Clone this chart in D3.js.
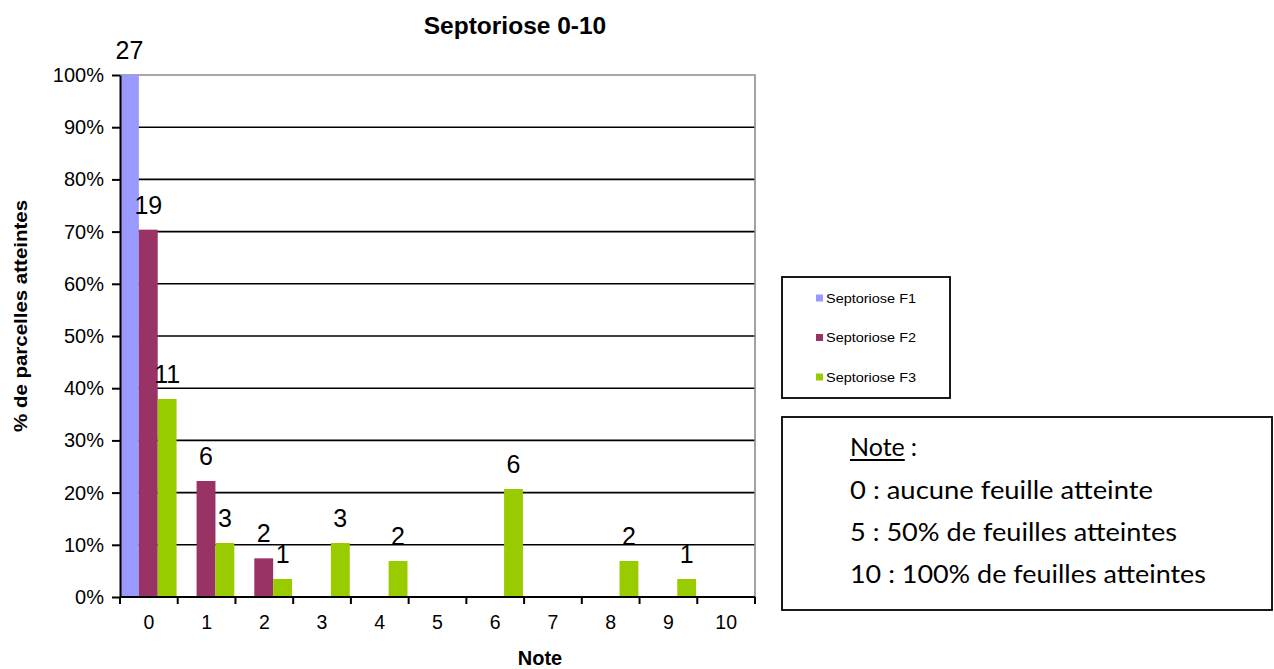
<!DOCTYPE html>
<html>
<head>
<meta charset="utf-8">
<script src="https://cdn.jsdelivr.net/npm/d3@7"></script>
<style>
  html, body { margin: 0; padding: 0; background: #fff; }
  svg { display: block; }
  text { font-family: "Liberation Sans", Arial, sans-serif; fill: #000; }
  .note text { font-family: Lato, "Open Sans", sans-serif; }
</style>
</head>
<body>
<svg id="chart" width="1274" height="669"></svg>
<script>
// Notes (0-10) on the x axis
const notes = ["0", "1", "2", "3", "4", "5", "6", "7", "8", "9", "10"];
// Number of plots per note, for each leaf level
const f1Counts = [27, 0, 0, 0, 0, 0, 0, 0, 0, 0, 0];
const f2Counts = [19, 6, 2, 0, 0, 0, 0, 0, 0, 0, 0];
const f3Counts = [11, 3, 1, 3, 2, 0, 6, 0, 2, 1, 0];
const seriesNames = ["Septoriose F1", "Septoriose F2", "Septoriose F3"];
const seriesColors = ["#9999FF", "#993366", "#99CC00"];
const yTicks = [0, 0.1, 0.2, 0.3, 0.4, 0.5, 0.6, 0.7, 0.8, 0.9, 1.0];
const noteLines = [
  "0 : aucune feuille atteinte",
  "5 : 50% de feuilles atteintes",
  "10 : 100% de feuilles atteintes"
];

const allCounts = [f1Counts, f2Counts, f3Counts];
// share of plots per note within each series
const series = allCounts.map((counts, s) => {
  const total = d3.sum(counts);
  return counts.map((c, i) => ({ s, note: notes[i], count: c, pct: c / total }));
});

const svg = d3.select("#chart");
const plot = { left: 120, right: 755, top: 75, bottom: 597 };

const x0 = d3.scaleBand().domain(notes).range([plot.left, plot.right])
  .paddingInner(0.02).paddingOuter(0.01).align(0);
const x1 = d3.scaleBand().domain([0, 1, 2]).range([0, x0.bandwidth()]);
const y = d3.scaleLinear().domain([0, 1]).range([plot.bottom, plot.top]);
const slot = (plot.right - plot.left) / notes.length;

// horizontal gridlines
svg.append("g")
  .selectAll("line")
  .data(yTicks.filter(t => t > 0 && t < 1))
  .join("line")
  .attr("x1", plot.left).attr("x2", plot.right)
  .attr("y1", d => y(d)).attr("y2", d => y(d))
  .attr("stroke", "#000").attr("stroke-width", 1.6);

// plot area frame (top and right)
svg.append("path")
  .attr("d", `M${plot.left},${y(1)}H${plot.right}V${plot.bottom}`)
  .attr("fill", "none").attr("stroke", "#8c8c8c").attr("stroke-width", 1.6);

// bars
const bars = svg.append("g");
series.forEach(data => {
  bars.selectAll(null)
    .data(data.filter(d => d.count > 0))
    .join("rect")
    .attr("x", d => x0(d.note) + x1(d.s))
    .attr("width", x1.bandwidth())
    .attr("y", d => y(d.pct))
    .attr("height", d => y(0) - y(d.pct))
    .attr("fill", seriesColors[data[0].s]);
});

// value labels (counts)
const labels = svg.append("g");
series.forEach(data => {
  labels.selectAll(null)
    .data(data.filter(d => d.count > 0))
    .join("text")
    .attr("x", d => x0(d.note) + x1(d.s) + x1.bandwidth() / 2)
    .attr("y", d => y(d.pct) - 16)
    .attr("text-anchor", "middle")
    .style("font-size", "25px")
    .text(d => d.count);
});

// y axis
const yAxis = svg.append("g")
  .attr("transform", `translate(${plot.left},0)`)
  .call(d3.axisLeft(y).tickValues(yTicks).tickFormat(d3.format(".0%"))
    .tickSize(8).tickSizeOuter(0).tickPadding(8));
yAxis.select(".domain").attr("stroke", "#000").attr("stroke-width", 2);
yAxis.selectAll(".tick line").attr("stroke", "#000").attr("stroke-width", 2);
yAxis.selectAll(".tick text").style("font-size", "20px").attr("font-family", null);

// x axis: ticks at category boundaries
const xAxis = svg.append("g")
  .attr("transform", `translate(0,${plot.bottom})`);
xAxis.append("line")
  .attr("x1", plot.left).attr("x2", plot.right)
  .attr("stroke", "#000").attr("stroke-width", 2);
xAxis.selectAll(".bt")
  .data(d3.range(notes.length + 1))
  .join("line")
  .attr("class", "bt")
  .attr("x1", i => plot.left + i * slot)
  .attr("x2", i => plot.left + i * slot)
  .attr("y1", 0).attr("y2", 7)
  .attr("stroke", "#000").attr("stroke-width", 2);
xAxis.selectAll(".xl")
  .data(notes)
  .join("text")
  .attr("class", "xl")
  .attr("x", (d, i) => plot.left + (i + 0.5) * slot)
  .attr("y", 32)
  .attr("text-anchor", "middle")
  .style("font-size", "19.5px")
  .text(d => d);

// titles
svg.append("text")
  .attr("x", 515).attr("y", 34)
  .attr("text-anchor", "middle")
  .style("font-size", "24.5px").style("font-weight", "bold")
  .text("Septoriose 0-10");

svg.append("text")
  .attr("x", 540).attr("y", 665)
  .attr("text-anchor", "middle")
  .style("font-size", "20px").style("font-weight", "bold")
  .text("Note");

svg.append("text")
  .attr("transform", "translate(27,316) rotate(-90)")
  .attr("text-anchor", "middle")
  .attr("textLength", 232).attr("lengthAdjust", "spacingAndGlyphs")
  .style("font-size", "18px").style("font-weight", "bold")
  .text("% de parcelles atteintes");

// legend
const legend = svg.append("g");
legend.append("rect")
  .attr("x", 782).attr("y", 277).attr("width", 168).attr("height", 121)
  .attr("fill", "#fff").attr("stroke", "#000").attr("stroke-width", 1.8);
const legendY = d3.scalePoint().domain(seriesNames).range([298, 377]);
legend.selectAll(".sw")
  .data(seriesNames)
  .join("rect")
  .attr("class", "sw")
  .attr("x", 816).attr("y", d => legendY(d) - 3.5)
  .attr("width", 7).attr("height", 7)
  .attr("fill", (d, i) => seriesColors[i]);
legend.selectAll(".lt")
  .data(seriesNames)
  .join("text")
  .attr("class", "lt")
  .attr("x", 826).attr("y", d => legendY(d) + 4.5)
  .attr("textLength", 90).attr("lengthAdjust", "spacingAndGlyphs")
  .style("font-size", "13px")
  .text(d => d);

// scale explanation box
const note = svg.append("g").attr("class", "note");
note.append("rect")
  .attr("x", 782).attr("y", 417).attr("width", 490).attr("height", 193)
  .attr("fill", "#fff").attr("stroke", "#000").attr("stroke-width", 1.8);
const noteHead = note.append("text")
  .attr("x", 850).attr("y", 456)
  .style("font-size", "25px")
  .text("Note");
const hb = noteHead.node().getBBox();
note.append("line")
  .attr("x1", hb.x).attr("x2", hb.x + hb.width)
  .attr("y1", 460).attr("y2", 460)
  .attr("stroke", "#000").attr("stroke-width", 1.8);
note.append("text")
  .attr("x", hb.x + hb.width + 6).attr("y", 456)
  .style("font-size", "25px")
  .text(":");
const noteWidths = [303, 327, 356];
note.selectAll(".nl")
  .data(noteLines)
  .join("text")
  .attr("class", "nl")
  .attr("x", 850)
  .attr("y", (d, i) => 499 + i * 42)
  .attr("textLength", (d, i) => noteWidths[i]).attr("lengthAdjust", "spacingAndGlyphs")
  .style("font-size", "25px")
  .text(d => d);
</script>
</body>
</html>
